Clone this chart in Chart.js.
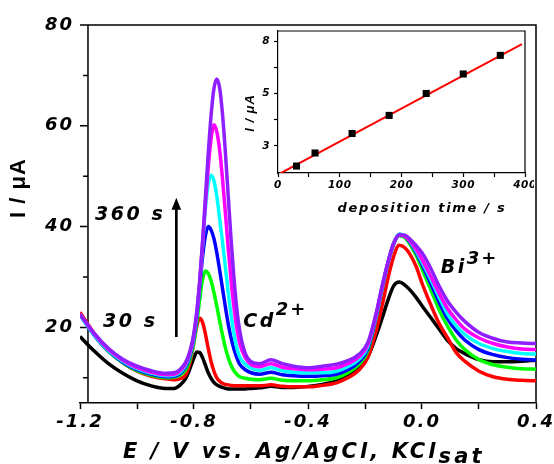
<!DOCTYPE html>
<html><head><meta charset="utf-8">
<script src="https://cdn.jsdelivr.net/npm/chart.js@4.4.1/dist/chart.umd.min.js"></script>
<style>
html,body{margin:0;padding:0;background:#fff;}
#wrap{position:relative;width:554px;height:464px;overflow:hidden;}
#main{position:absolute;left:0;top:0;}
#inset{position:absolute;left:228px;top:26px;}
</style></head><body>
<div id="wrap">
<canvas id="main" width="554" height="464"></canvas>
<canvas id="inset" width="306" height="196"></canvas>
</div>
<script>
// ---------- main voltammograms: potential (V) and current (µA) ----------
const potential = [-1.20,-1.15,-1.10,-1.05,-1.00,-0.95,-0.90,-0.87,-0.85,
  -0.83,-0.82,-0.81,-0.80,-0.79,-0.78,-0.77,-0.76,-0.75,-0.74,-0.73,-0.72,-0.71,-0.70,-0.69,-0.68,-0.67,-0.66,-0.65,-0.64,
  -0.62,-0.60,-0.57,-0.53,-0.49,-0.45,
  -0.40,-0.35,-0.30,-0.26,-0.22,-0.19,-0.16,-0.14,-0.12,-0.10,-0.08,-0.06,-0.04,-0.02,0.00,0.03,0.06,0.09,0.12,0.15,0.20,0.25,0.30,0.35,0.40];

const i360 = [22.6,18.8,15.8,13.7,12.3,11.4,10.9,11.0,11.6,
  13.0,14.3,16.2,19.0,23.2,29.3,37.0,45.8,54.5,62.1,67.4,69.3,67.5,62.3,54.8,46.2,37.5,29.9,23.8,19.5,
  14.8,13.2,12.8,13.6,12.8,12.3,
  12.0,12.3,12.7,13.4,14.7,17.0,23.0,28.2,32.8,36.6,38.4,38.3,37.4,36.2,34.8,31.8,28.2,25.2,23.0,21.2,19.0,17.8,17.1,16.9,16.8];
const i300 = [22.7,18.7,15.6,13.5,12.0,11.1,10.6,10.7,11.3,
  12.7,14.0,15.9,18.7,23.0,29.0,36.5,44.5,51.8,57.5,60.2,58.8,55.2,49.5,42.8,35.8,29.4,24.1,19.9,16.9,
  14.0,12.6,12.2,12.8,12.1,11.8,
  11.6,11.7,12.0,12.8,14.2,16.6,22.8,28.0,32.7,36.5,38.3,38.1,37.0,35.4,33.5,30.2,26.8,23.7,21.5,19.7,17.9,16.8,16.1,15.7,15.6];
const i240 = [22.5,18.5,15.4,13.3,11.8,10.9,10.4,10.5,11.0,
  12.4,13.7,15.6,18.4,22.8,28.7,36.0,43.5,48.5,50.2,49.1,46.0,41.5,37.0,32.0,27.0,22.5,18.8,16.0,14.2,
  12.7,11.9,11.5,12.0,11.4,11.1,
  11.0,11.0,11.3,12.2,13.7,16.2,22.6,27.9,32.7,36.6,38.5,38.2,36.9,35.1,33.0,29.6,26.0,22.6,20.3,18.6,16.8,15.8,15.2,14.8,14.7];
const i180 = [22.5,18.4,15.3,13.1,11.6,10.7,10.2,10.3,10.8,
  12.1,13.3,15.2,18.0,22.3,28.0,34.0,38.2,40.0,39.3,37.6,34.8,31.4,27.7,24.1,20.7,17.9,15.7,14.0,12.7,
  11.6,11.0,10.7,11.1,10.6,10.4,
  10.3,10.4,10.7,11.6,13.2,15.8,22.4,27.8,32.7,36.6,38.5,38.1,36.7,34.8,32.5,28.8,25.0,21.7,19.3,17.5,15.6,14.6,14.0,13.7,13.5];
const i120 = [22.7,18.5,15.2,13.0,11.4,10.5,10.0,10.1,10.5,
  11.5,12.6,14.5,17.2,21.0,25.5,29.5,31.2,30.7,29.2,26.9,24.2,21.3,18.5,16.0,14.0,12.5,11.4,10.7,10.2,
  9.9,9.7,9.6,9.9,9.5,9.4,
  9.4,9.6,10.0,11.0,12.7,15.4,22.2,27.6,32.5,36.4,38.2,37.8,36.3,34.2,31.6,27.6,23.5,20.2,17.5,15.6,13.6,12.6,12.1,11.8,11.7];
const i60 = [23.0,18.8,15.4,13.0,11.3,10.3,9.8,9.6,9.8,
  10.5,11.8,14.0,17.2,20.3,21.8,21.0,18.7,15.8,13.2,11.3,10.0,9.3,8.9,8.7,8.6,8.5,8.4,8.4,8.4,
  8.4,8.4,8.4,8.6,8.3,8.2,
  8.2,8.5,9.0,10.0,11.6,14.0,19.5,24.3,29.6,34.0,36.3,35.8,34.3,32.0,28.8,24.6,20.8,17.9,15.0,13.3,11.3,10.2,9.7,9.5,9.4];
const i30 = [18.2,15.3,12.8,10.9,9.4,8.4,7.9,7.9,8.5,
  9.8,11.0,12.5,14.0,15.1,15.0,14.0,12.5,11.0,9.9,9.1,8.6,8.3,8.1,7.9,7.8,7.8,7.8,7.8,7.8,
  7.8,7.9,8.0,8.3,8.1,8.1,
  8.3,8.7,9.4,10.4,12.0,14.2,18.5,21.8,25.3,28.2,29.0,28.4,27.3,25.9,24.3,22.0,19.7,17.4,15.8,14.8,13.6,13.2,13.2,13.3,13.5];

const xTickValues = [-1.2,-1.0,-0.8,-0.6,-0.4,-0.2,0.0,0.2,0.4];
const xTickLabels = ['-1.2','','-0.8','','-0.4','','0.0','','0.4'];
const yTickValues = [10,20,30,40,50,60,70,80];
const yTickLabels = ['','20','','40','','60','','80'];

// ---------- inset: peak current vs deposition time ----------
const depTime = [30,60,120,180,240,300,360];
const peakCurrent = [0.84,1.59,2.71,3.75,5.01,6.13,7.20];
const fitTime = [0,395];
const fitCurrent = [0.35,7.85];
const insetXTickValues = [0,50,100,150,200,250,300,350,400];
const insetXTickLabels = ['0','','100','','200','','300','','400'];
const insetYTickValues = [2,3.5,5,6.5,8];
const insetYTickLabels = ['3','','5','','8'];

const FONT = "'DejaVu Sans', Verdana, sans-serif";
const FONT2 = "'Liberation Sans', Arial, sans-serif";
const series = [
  {name:'360 s', values:i360, color:'#8f1fff'},
  {name:'300 s', values:i300, color:'#ff00ff'},
  {name:'240 s', values:i240, color:'#00ffff'},
  {name:'180 s', values:i180, color:'#0000ff'},
  {name:'120 s', values:i120, color:'#00ff00'},
  {name:'60 s',  values:i60,  color:'#ff0000'},
  {name:'30 s',  values:i30,  color:'#000000'}
];

function drawSpaced(ctx, text, x, y, font, spacing, align) {
  ctx.font = font;
  ctx.letterSpacing = spacing + 'px';
  ctx.textAlign = align || 'left';
  ctx.fillText(text, x, y);
  return ctx.measureText(text).width;
}

const mainDecor = {
  id: 'mainDecor',
  beforeDraw(chart) { chart.ctx.letterSpacing = '2px'; },
  beforeDatasetsDraw(chart) {
    const {ctx, chartArea: a, scales: {x, y}} = chart;
    ctx.save();
    ctx.strokeStyle = '#000'; ctx.lineWidth = 1.5;
    const ax = x.getPixelForValue(-1.172);
    ctx.beginPath();
    ctx.moveTo(ax, a.bottom); ctx.lineTo(ax, a.top); ctx.lineTo(a.right, a.top); ctx.lineTo(a.right, a.bottom);
    yTickValues.forEach((v, i) => {
      const py = y.getPixelForValue(v);
      const len = yTickLabels[i] ? 8 : 5;
      ctx.moveTo(ax, py); ctx.lineTo(ax - len, py);
    });
    ctx.stroke();
    ctx.restore();
  },
  afterDraw(chart) {
    const {ctx, scales: {x, y}} = chart;
    ctx.save();
    ctx.fillStyle = '#000';
    ctx.textBaseline = 'alphabetic';
    const bi = "italic bold 19px " + FONT;
    // annotations
    drawSpaced(ctx, '360 s', x.getPixelForValue(-1.147), y.getPixelForValue(41.3), bi, 2.5);
    drawSpaced(ctx, '30 s', x.getPixelForValue(-1.119), y.getPixelForValue(20.1), bi, 2.5);
    let w = drawSpaced(ctx, 'Cd', x.getPixelForValue(-0.627), y.getPixelForValue(20.1), bi, 2.5);
    drawSpaced(ctx, '2+', x.getPixelForValue(-0.627) + w, y.getPixelForValue(22.5), "italic bold 18px " + FONT, 2);
    w = drawSpaced(ctx, 'Bi', x.getPixelForValue(0.066), y.getPixelForValue(30.8), bi, 2.5);
    drawSpaced(ctx, '3+', x.getPixelForValue(0.066) + w, y.getPixelForValue(32.6), "italic bold 18px " + FONT, 2);
    // arrow
    const axp = x.getPixelForValue(-0.862);
    const yb = y.getPixelForValue(18.1), yt = y.getPixelForValue(45.7);
    ctx.strokeStyle = '#000'; ctx.lineWidth = 2.7;
    ctx.beginPath(); ctx.moveTo(axp, yb); ctx.lineTo(axp, yt + 10); ctx.stroke();
    ctx.beginPath(); ctx.moveTo(axp, yt); ctx.lineTo(axp - 4.8, yt + 12); ctx.lineTo(axp + 4.8, yt + 12); ctx.closePath(); ctx.fill();
    // x title
    const tf = "italic bold 21px " + FONT;
    w = drawSpaced(ctx, 'E / V vs. Ag/AgCl, KCl', 123, 458, tf, 3.1);
    drawSpaced(ctx, 'sat', 123 + w, 463, tf, 3.1);
    // y title
    ctx.translate(19, 188);
    ctx.rotate(-Math.PI / 2);
    ctx.textBaseline = 'middle';
    drawSpaced(ctx, 'I / μA', 0, 0, "bold 22px " + FONT2, 1, 'center');
    ctx.restore();
  }
};

new Chart(document.getElementById('main'), {
  type: 'line',
  data: {
    datasets: series.map(s => ({
      label: s.name,
      data: potential.map((p, i) => ({x: p, y: s.values[i]})),
      borderColor: s.color,
      backgroundColor: s.color,
      borderWidth: 3.5,
      pointRadius: 0,
      cubicInterpolationMode: 'monotone',
      fill: false
    }))
  },
  options: {
    animation: false, responsive: false, devicePixelRatio: 1,
    layout: {padding: {top: 25, right: 18, left: 0, bottom: 0}},
    plugins: {legend: {display: false}, tooltip: {enabled: false}},
    scales: {
      x: {
        type: 'linear', min: -1.2, max: 0.4,
        afterBuildTicks: s => { s.ticks = xTickValues.map(v => ({value: v})); },
        afterFit: s => { s.height = 61; s.paddingLeft = 0; s.paddingRight = 0; },
        ticks: {autoSkip: false, maxRotation: 0, padding: 3, color: '#000',
          font: {family: FONT, size: 18, weight: 'bold', style: 'italic'},
          callback: (v, i) => xTickLabels[i]},
        grid: {drawOnChartArea: false, drawTicks: true, tickLength: 6, tickWidth: 1.5, tickColor: '#000'},
        border: {display: true, color: '#000', width: 1.5}
      },
      y: {
        type: 'linear', min: 5, max: 80,
        afterBuildTicks: s => { s.ticks = yTickValues.map(v => ({value: v})); },
        afterFit: s => { s.width = 80; s.paddingTop = 0; s.paddingBottom = 0; },
        ticks: {autoSkip: false, padding: 6, color: '#000',
          font: {family: FONT, size: 18, weight: 'bold', style: 'italic'},
          callback: (v, i) => yTickLabels[i]},
        grid: {display: false, drawTicks: false},
        border: {display: false}
      }
    }
  },
  plugins: [mainDecor]
});

const insetDecor = {
  id: 'insetDecor',
  beforeDraw(chart) { chart.ctx.letterSpacing = '0.5px'; },
  afterDraw(chart) {
    const {ctx, chartArea: a} = chart;
    ctx.save();
    ctx.strokeStyle = '#000'; ctx.lineWidth = 1.2;
    ctx.beginPath(); ctx.moveTo(a.left, a.top); ctx.lineTo(a.right, a.top); ctx.lineTo(a.right, a.bottom); ctx.stroke();
    ctx.fillStyle = '#000';
    ctx.textBaseline = 'alphabetic';
    drawSpaced(ctx, 'deposition time / s', 194, 186, "italic bold 13px " + FONT, 1.7, 'center');
    ctx.translate(22, 87);
    ctx.rotate(-Math.PI / 2);
    ctx.textBaseline = 'middle';
    drawSpaced(ctx, 'I / μA', 0, 0, "italic bold 13px " + FONT2, 1, 'center');
    ctx.restore();
  }
};

new Chart(document.getElementById('inset'), {
  type: 'scatter',
  data: {
    datasets: [
      {data: depTime.map((t, i) => ({x: t, y: peakCurrent[i]})), pointStyle: 'rect', pointRadius: 5,
       backgroundColor: '#000', borderColor: '#000', borderWidth: 0, showLine: false},
      {type: 'line', data: fitTime.map((t, i) => ({x: t, y: fitCurrent[i]})), borderColor: '#ff0000',
       borderWidth: 2, pointRadius: 0, showLine: true, fill: false}
    ]
  },
  options: {
    animation: false, responsive: false, devicePixelRatio: 1,
    layout: {padding: {top: 2, right: 9, left: 0, bottom: 0}},
    plugins: {legend: {display: false}, tooltip: {enabled: false}},
    scales: {
      x: {
        type: 'linear', min: 0, max: 400,
        afterBuildTicks: s => { s.ticks = insetXTickValues.map(v => ({value: v})); },
        afterFit: s => { s.height = 49; s.paddingLeft = 0; s.paddingRight = 0; },
        ticks: {autoSkip: false, maxRotation: 0, padding: 2, color: '#000',
          font: {family: FONT, size: 10.5, weight: 'bold', style: 'italic'},
          callback: (v, i) => insetXTickLabels[i]},
        grid: {drawOnChartArea: false, drawTicks: true, tickLength: 4, tickWidth: 1.2, tickColor: '#000'},
        border: {display: true, color: '#000', width: 1.2}
      },
      y: {
        type: 'linear', min: 0.44, max: 8.6,
        afterBuildTicks: s => { s.ticks = insetYTickValues.map(v => ({value: v})); },
        afterFit: s => { s.width = 50; s.paddingTop = 0; s.paddingBottom = 0; },
        ticks: {autoSkip: false, padding: 4, color: '#000',
          font: {family: FONT, size: 10.5, weight: 'bold', style: 'italic'},
          callback: (v, i) => insetYTickLabels[i]},
        grid: {drawOnChartArea: false, drawTicks: true, tickLength: 4, tickWidth: 1.2, tickColor: '#000'},
        border: {display: true, color: '#000', width: 1.2}
      }
    }
  },
  plugins: [insetDecor]
});
</script>
</body></html>
